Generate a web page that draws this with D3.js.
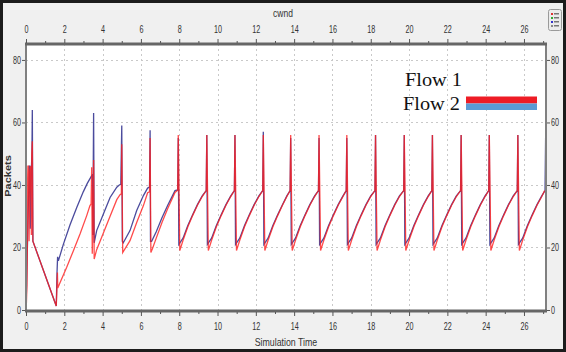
<!DOCTYPE html>
<html><head><meta charset="utf-8">
<script src="https://cdn.jsdelivr.net/npm/d3@7"></script>
<style>body{margin:0;background:#fff}svg{display:block}</style>
</head><body>
<script>
const chartTitle = "cwnd";
const xLabel = "Simulation Time";
const yLabel = "Packets";
const xTicks = [0,2,4,6,8,10,12,14,16,18,20,22,24,26];
const xMinorTicks = [1,3,5,7,9,11,13,15,17,19,21,23,25,27];
const yTicks = [0,20,40,60,80];
const seriesNames = ["Flow 1","Flow 2"];
const seriesColors = ["#ff1e1e","#2b2b8c"];
const legendColors = ["#ee1c25","#5b9bd5"];

// Flow 1 (red): [time, cwnd]
const flow1 = [[0,0],[0.02,2],[0.05,8],[0.07,20],[0.08,40],[0.1,46],[0.14,46],[0.16,22],[0.2,44],[0.25,46],[0.28,24],[0.3,50],[0.33,54],[0.36,22],[1.58,1.3],[1.62,8],[1.64,12],[1.66,7],[1.78,8.8],[2.12,13.6],[2.47,18.9],[2.82,24.3],[3.17,30.2],[3.34,33.4],[3.4,34],[3.43,45.7],[3.46,18],[3.5,33],[3.53,48],[3.56,16.3],[3.69,19.3],[4.04,24.6],[4.39,30],[4.74,35.3],[4.91,36.9],[4.98,37.2],[5.0,53],[5.05,18.4],[5.43,22.2],[5.78,28],[6.13,33.4],[6.35,37.5],[6.45,37.8],[6.48,55],[6.52,18.4],[6.6,19.6],[6.8,23],[7.1,28],[7.4,32.5],[7.78,37.6],[7.92,38.3],[7.95,56],
[8.03,19],[8.2,22.3],[8.45,26.6],[8.7,30.2],[8.95,33.5],[9.2,36.3],[9.41,38.2],[9.44,56],
[9.52,19],[9.69,22.3],[9.94,26.6],[10.19,30.2],[10.44,33.5],[10.69,36.3],[10.88,38.2],[10.91,56],
[10.99,19],[11.16,22.3],[11.41,26.6],[11.66,30.2],[11.91,33.5],[12.16,36.3],[12.36,38.2],[12.39,56],
[12.47,19],[12.64,22.3],[12.89,26.6],[13.14,30.2],[13.39,33.5],[13.62,36.3],[13.79,38.2],[13.82,56],
[13.9,19],[14.07,22.3],[14.32,26.6],[14.57,30.2],[14.82,33.5],[15.07,36.3],[15.27,38.2],[15.3,56],
[15.38,19],[15.55,22.3],[15.8,26.6],[16.05,30.2],[16.3,33.5],[16.55,36.3],[16.72,38.2],[16.75,56],
[16.83,19],[17.0,22.3],[17.25,26.6],[17.5,30.2],[17.75,33.5],[18.0,36.3],[18.22,38.2],[18.25,56],
[18.33,19],[18.5,22.3],[18.75,26.6],[19.0,30.2],[19.25,33.5],[19.5,36.3],[19.72,38.2],[19.75,56],
[19.83,19],[20.0,22.3],[20.25,26.6],[20.5,30.2],[20.75,33.5],[21.0,36.3],[21.19,38.2],[21.22,56],
[21.3,19],[21.47,22.3],[21.72,26.6],[21.97,30.2],[22.22,33.5],[22.47,36.3],[22.69,38.2],[22.72,56],
[22.8,19],[22.97,22.3],[23.22,26.6],[23.47,30.2],[23.72,33.5],[23.97,36.3],[24.16,38.2],[24.19,56],
[24.27,19],[24.44,22.3],[24.69,26.6],[24.94,30.2],[25.19,33.5],[25.44,36.3],[25.65,38.2],[25.68,56],
[25.76,19],[25.93,22.3],[26.18,26.6],[26.43,30.2],[26.68,33.5],[26.93,36.3],[27.08,38.2]];

// Flow 2 (blue): [time, cwnd]
const flow2 = [[0,0],[0.03,8],[0.06,17],[0.09,24],[0.12,33],[0.15,40],[0.17,46],[0.2,46],[0.22,26],[0.25,30],[0.28,45],[0.31,50],[0.33,64],[0.36,22],[1.58,1.3],[1.62,12],[1.65,17],[1.69,15.7],[1.95,21],[2.3,27.3],[2.65,32.8],[2.99,37.8],[3.2,40.5],[3.43,43],[3.47,43.3],[3.49,24],[3.51,43.5],[3.53,63],[3.56,21.5],[3.69,25.4],[4.04,30.7],[4.39,36],[4.74,39.3],[4.87,40],[4.95,40.2],[5.0,59],[5.03,22],[5.08,21.5],[5.43,25.4],[5.78,31.8],[6.13,36.6],[6.35,39],[6.45,39.3],[6.48,57.5],[6.5,22],[6.56,22],[6.8,25],[7.1,29.5],[7.4,33.5],[7.78,38.2],[7.92,38.4],[7.95,55],
[7.98,21],[8.2,23],[8.45,27],[8.7,30.5],[8.95,33.7],[9.2,36.5],[9.41,38.2],[9.44,56],
[9.47,21],[9.69,23],[9.94,27],[10.19,30.5],[10.44,33.7],[10.69,36.5],[10.88,38.2],[10.91,56],
[10.94,21],[11.16,23],[11.41,27],[11.66,30.5],[11.91,33.7],[12.16,36.5],[12.36,38.2],[12.39,57],
[12.42,21],[12.64,23],[12.89,27],[13.14,30.5],[13.39,33.7],[13.62,36.5],[13.79,38.2],[13.82,55],
[13.85,21],[14.07,23],[14.32,27],[14.57,30.5],[14.82,33.7],[15.07,36.5],[15.27,38.2],[15.3,55],
[15.33,21],[15.55,23],[15.8,27],[16.05,30.5],[16.3,33.7],[16.55,36.5],[16.72,38.2],[16.75,55],
[16.78,21],[17.0,23],[17.25,27],[17.5,30.5],[17.75,33.7],[18.0,36.5],[18.22,38.2],[18.25,56],
[18.28,21],[18.5,23],[18.75,27],[19.0,30.5],[19.25,33.7],[19.5,36.5],[19.72,38.2],[19.75,56],
[19.78,21],[20.0,23],[20.25,27],[20.5,30.5],[20.75,33.7],[21.0,36.5],[21.19,38.2],[21.22,56],
[21.25,21],[21.47,23],[21.72,27],[21.97,30.5],[22.22,33.7],[22.47,36.5],[22.69,38.2],[22.72,56],
[22.75,21],[22.97,23],[23.22,27],[23.47,30.5],[23.72,33.7],[23.97,36.5],[24.16,38.2],[24.19,56],
[24.22,21],[24.44,23],[24.69,27],[24.94,30.5],[25.19,33.7],[25.44,36.5],[25.65,38.2],[25.68,56],
[25.71,21],[25.93,23],[26.18,27],[26.43,30.5],[26.68,33.7],[26.93,36.5],[27.1,38.2],[27.13,55],[27.14,22]];

const W = 566, H = 352;
const L = 26, R = 546, T = 44, B = 311;
const svg = d3.select("body").append("svg").attr("width", W).attr("height", H);

svg.append("rect").attr("x",1.5).attr("y",1.5).attr("width",W-3).attr("height",H-3)
  .attr("fill","#f0f0f0").attr("stroke","#1c1c1c").attr("stroke-width",3);

const x = d3.scaleLinear().domain([0, 27.15]).range([L, R]);
const y = d3.scaleLinear().domain([0, 85.1]).range([310, T]);

svg.append("rect").attr("x",L).attr("y",T).attr("width",R-L).attr("height",B-T).attr("fill","#ffffff");

// grid
const grid = svg.append("g").attr("stroke","#c9c9c9").attr("stroke-dasharray","2,3").attr("stroke-width",1);
grid.selectAll("line.v").data(xTicks.filter(d=>d>0)).join("line")
  .attr("x1",d=>Math.round(x(d))+0.5).attr("x2",d=>Math.round(x(d))+0.5).attr("y1",T).attr("y2",B);
grid.selectAll("line.h").data(yTicks.filter(d=>d>0)).join("line")
  .attr("y1",d=>Math.round(y(d))+0.5).attr("y2",d=>Math.round(y(d))+0.5).attr("x1",L).attr("x2",R);

// lines
svg.append("clipPath").attr("id","clip").append("rect").attr("x",L).attr("y",T).attr("width",R-L).attr("height",B-T);
const line = d3.line().x(d=>x(d[0])).y(d=>y(d[1]));
const plot = svg.append("g").attr("clip-path","url(#clip)");
plot.append("path").datum(flow2).attr("d",line).attr("fill","none")
  .attr("stroke",seriesColors[1]).attr("stroke-width",1.3).attr("stroke-opacity",0.85);
plot.append("path").datum(flow1).attr("d",line).attr("fill","none")
  .attr("stroke",seriesColors[0]).attr("stroke-width",1.3).attr("stroke-opacity",0.8);

// frame
svg.append("rect").attr("x",L).attr("y",T).attr("width",R-L).attr("height",B-T)
  .attr("fill","none").attr("stroke","#808080").attr("stroke-width",2);
svg.append("line").attr("x1",L-1).attr("x2",R+1).attr("y1",T).attr("y2",T).attr("stroke","#666").attr("stroke-width",3);
svg.append("line").attr("x1",L-1).attr("x2",R+1).attr("y1",B).attr("y2",B).attr("stroke","#666").attr("stroke-width",3);

const fontCSS = "font-family:'Liberation Sans',Arial,sans-serif;font-size:10px;fill:#333";
function styleAxis(g){
  g.select(".domain").remove();
  g.selectAll(".tick line").attr("stroke","#555");
}
// bottom axis
const gb = svg.append("g").attr("transform",`translate(0,${B+1})`)
  .call(d3.axisBottom(x).tickValues(xTicks).tickSize(4).tickPadding(6).tickFormat(d3.format("d")));
styleAxis(gb);
gb.selectAll("text").attr("style",fontCSS).attr("transform","scale(0.72,1.05)");
const gbm = svg.append("g").attr("transform",`translate(0,${B+1})`)
  .call(d3.axisBottom(x).tickValues(xMinorTicks.filter(d=>d<27.15)).tickSize(2).tickFormat(""));
styleAxis(gbm);
// top axis
const gt = svg.append("g").attr("transform",`translate(0,${T-1})`)
  .call(d3.axisTop(x).tickValues(xTicks).tickSize(4).tickPadding(6).tickFormat(d3.format("d")));
styleAxis(gt);
gt.selectAll("text").attr("style",fontCSS).attr("transform","scale(0.72,1.05)");
const gtm = svg.append("g").attr("transform",`translate(0,${T-1})`)
  .call(d3.axisTop(x).tickValues(xMinorTicks.filter(d=>d<27.15)).tickSize(2).tickFormat(""));
styleAxis(gtm);
// left axis
const gl = svg.append("g").attr("transform",`translate(${L-1},0)`)
  .call(d3.axisLeft(y).tickValues(yTicks).tickSize(3).tickFormat(d3.format("d")));
styleAxis(gl);
gl.selectAll("text").attr("style",fontCSS).attr("x",0).attr("transform","translate(-4,0) scale(0.72,1.05)");
// right axis
const gr = svg.append("g").attr("transform",`translate(${R+1},0)`)
  .call(d3.axisRight(y).tickValues(yTicks).tickSize(3).tickFormat(d3.format("d")));
styleAxis(gr);
gr.selectAll("text").attr("style",fontCSS).attr("x",0).attr("transform","translate(4,0) scale(0.72,1.05)");

// titles
svg.append("text").attr("x",283).attr("y",17).attr("text-anchor","middle")
  .attr("style","font-family:'Liberation Sans',Arial,sans-serif;font-size:10px;fill:#333")
  .attr("transform","translate(283,0) scale(0.85,1) translate(-283,0)").text(chartTitle);
svg.append("text").attr("x",286).attr("y",346).attr("text-anchor","middle")
  .attr("style","font-family:'Liberation Sans',Arial,sans-serif;font-size:11px;fill:#333")
  .attr("transform","translate(286,0) scale(0.8,1) translate(-286,0)").text(xLabel);
svg.append("text").attr("transform","translate(11,176) rotate(-90) scale(1,0.85)").attr("text-anchor","middle")
  .attr("style","font-family:'Liberation Sans',Arial,sans-serif;font-size:11px;font-weight:bold;fill:#333").text(yLabel);

// legend
const lg = svg.append("g");
lg.selectAll("text").data(seriesNames).join("text")
  .attr("x",(d,i)=>i===0?405:403).attr("y",(d,i)=>i===0?86:110)
  .attr("textLength",57).attr("lengthAdjust","spacingAndGlyphs")
  .attr("style","font-family:'Liberation Serif','Times New Roman',serif;font-size:18px;fill:#111")
  .text(d=>d);
lg.selectAll("rect").data(seriesNames).join("rect")
  .attr("x",466).attr("y",(d,i)=>i===0?96.5:103.5).attr("width",71).attr("height",(d,i)=>i===0?7:6.5)
  .attr("fill",(d,i)=>legendColors[i]);

// small legend toggle icon top right
const ic = svg.append("g");
ic.append("rect").attr("x",548.5).attr("y",9.5).attr("width",13).attr("height",21).attr("rx",2)
  .attr("fill","#ececec").attr("stroke","#9a9a9a");
const iconColors = ["#d33","#3a3","#33c","#888"];
iconColors.forEach((c,i)=>{
  ic.append("rect").attr("x",551).attr("y",13+i*4).attr("width",2).attr("height",2).attr("fill",c);
  ic.append("rect").attr("x",554).attr("y",13+i*4).attr("width",5).attr("height",1.5).attr("fill","#777");
});
</script>
</body></html>
